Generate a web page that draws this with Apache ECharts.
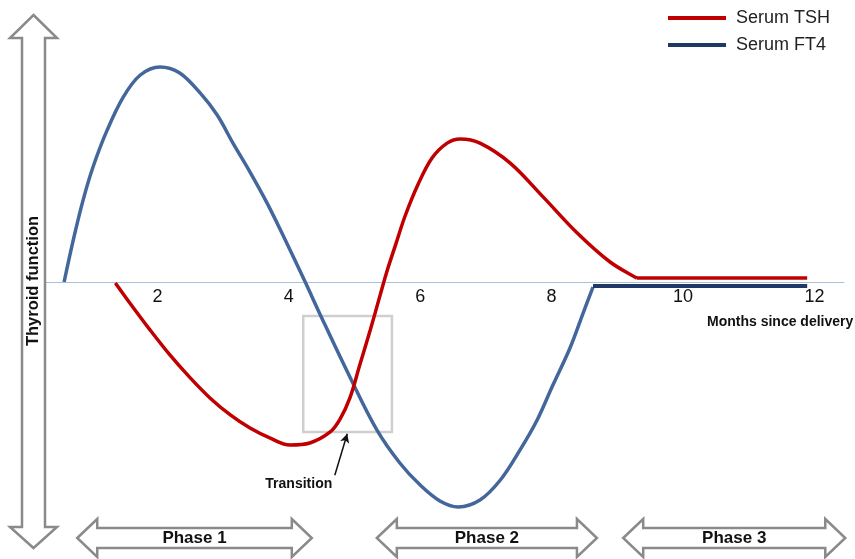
<!DOCTYPE html>
<html><head><meta charset="utf-8">
<script src="https://cdn.jsdelivr.net/npm/echarts@6.0.0/dist/echarts.min.js"></script>
<style>html,body{margin:0;padding:0;background:#fff}#c{width:855px;height:559px}</style>
</head><body><div id="c"></div>
<script>
// ---- data (months since delivery, relative thyroid level) ----
const tickLabels = [2, 4, 6, 8, 10, 12];

const ft4Months = [0.58, 0.72, 0.87, 1.02, 1.23, 1.48, 1.74, 2.04, 2.34, 2.65, 2.91, 3.15, 3.41, 3.67, 3.91, 4.25, 4.48, 4.93, 5.34, 5.69, 6.00, 6.30, 6.58, 6.91, 7.22, 7.52, 7.78, 8.02, 8.28, 8.48, 8.63];
const ft4Values = [0, 18.3, 35.7, 50, 65.7, 80.4, 90, 93.5, 90.9, 82.2, 72.6, 60.4, 47.8, 34.3, 20.4, 0, -14.3, -41.3, -64.3, -78.7, -88.3, -95.2, -97.8, -94.8, -86.1, -73, -60, -44.8, -28.7, -13.5, -2.2];
const ft4SteadyMonths = [8.63, 11.89];
const ft4SteadyValues = [-1.7, -1.7];

const tshMonths = [1.36, 1.58, 1.89, 2.19, 2.50, 2.80, 3.11, 3.41, 3.71, 4.02, 4.32, 4.63, 4.78, 4.93, 5.08, 5.24, 5.39, 5.50, 5.62, 5.77, 5.97, 6.18, 6.41, 6.61, 6.91, 7.37, 7.87, 8.39, 8.89, 9.30];
const tshValues = [-0.4, -9.1, -20.9, -31.7, -41.7, -50.4, -57.8, -63.5, -67.8, -70.9, -70, -65.2, -59.6, -50.4, -36.1, -20.9, -5.7, 5.2, 15.7, 28.7, 42.6, 53.9, 60.4, 62.2, 60.4, 51.7, 37, 21.3, 8.7, 1.7];
const tshSteadyMonths = [9.30, 11.89];
const tshSteadyValues = [1.7, 1.7];

const transitionMonths = [4.22, 5.57];
const transitionLevels = [-14.8, -65.2];
const transitionArrowMonths = [4.70, 4.89];
const transitionArrowLevels = [-84, -66];

const phaseNames = ['Phase 1', 'Phase 2', 'Phase 3'];
const phaseStart = [0.78, 5.34, 9.09];
const phaseEnd = [4.35, 8.69, 12.47];

const zip = (xs, ys) => xs.map((x, i) => [x, ys[i]]);

const RED = '#c00000', BLUE = '#44679b', NAVY = '#1f3864';
const FONT = 'Liberation Sans, Arial, sans-serif';
const SMOOTH = 0.35;

const chart = echarts.init(document.getElementById('c'), null, {renderer: 'canvas'});

const GRID_TOP = 52, GRID_H = 460;
const option = {
  animation: false,
  backgroundColor: '#fff',
  grid: {left: 26, top: GRID_TOP, height: GRID_H, width: 12.45 * 65.7},
  legend: {
    orient: 'vertical', left: 663, top: 4, itemWidth: 58, itemHeight: 4, itemGap: 9,
    icon: 'rect',
    textStyle: {fontFamily: FONT, fontSize: 18, color: '#222', padding: [0, 0, 0, 5]},
    data: [
      {name: 'Serum TSH', itemStyle: {color: RED}},
      {name: 'Serum FT4', itemStyle: {color: NAVY}}
    ]
  },
  xAxis: {
    type: 'value', min: 0, max: 12.45, interval: 2,
    position: 'bottom', offset: -GRID_H / 2,
    axisLine: {onZero: false, lineStyle: {color: '#a9c0da', width: 1}},
    axisTick: {show: false},
    splitLine: {show: false},
    axisLabel: {
      color: '#111', fontFamily: FONT, fontSize: 18, margin: 6,
      formatter: v => tickLabels.includes(v) ? String(v) : ''
    }
  },
  yAxis: {type: 'value', min: -100, max: 100, show: false},
  series: [
    {
      name: 'Serum FT4', type: 'line', data: zip(ft4Months, ft4Values),
      smooth: SMOOTH, symbol: 'none', lineStyle: {color: BLUE, width: 3.5}, itemStyle: {color: BLUE},
      markArea: {
        silent: true,
        itemStyle: {color: 'rgba(0,0,0,0)', borderColor: '#cfcfcf', borderWidth: 2.5},
        data: [[{xAxis: transitionMonths[0], yAxis: transitionLevels[0]}, {xAxis: transitionMonths[1], yAxis: transitionLevels[1]}]]
      }
    },
    {
      name: 'Serum FT4', type: 'line', data: zip(ft4SteadyMonths, ft4SteadyValues),
      symbol: 'none', lineStyle: {color: NAVY, width: 4}, itemStyle: {color: NAVY}
    },
    {
      name: 'Serum TSH', type: 'line', data: zip(tshMonths, tshValues),
      smooth: SMOOTH, symbol: 'none', lineStyle: {color: RED, width: 3.5}, itemStyle: {color: RED},
      markLine: {
        silent: true, symbol: ['none', 'arrow'], symbolSize: [7, 9],
        label: {show: false},
        lineStyle: {color: '#111', width: 1.5, type: 'solid'},
        data: [[{coord: [transitionArrowMonths[0], transitionArrowLevels[0]]}, {coord: [transitionArrowMonths[1], transitionArrowLevels[1]]}]]
      }
    },
    {
      name: 'Serum TSH', type: 'line', data: zip(tshSteadyMonths, tshSteadyValues),
      symbol: 'none', lineStyle: {color: RED, width: 3.5}, itemStyle: {color: RED}
    }
  ]
};
chart.setOption(option);

// ---- decorative arrows & annotations ----
const arrowStyle = {fill: '#fff', stroke: '#8a8a8a', lineWidth: 2.5};
const graphics = [];
graphics.push({
  type: 'polygon', z: 50,
  shape: {points: [[33.5, 15], [57, 38], [45, 38], [45, 527], [57, 527], [33.5, 548], [10, 527], [22, 527], [22, 38], [10, 38]]},
  style: arrowStyle
});
graphics.push({
  type: 'text', z: 51, x: 33.5, y: 281, rotation: Math.PI / 2,
  style: {text: 'Thyroid function', fontFamily: FONT, fontWeight: 'bold', fontSize: 16.5, fill: '#111', align: 'center', verticalAlign: 'middle'}
});
const cy = 538;
phaseNames.forEach((name, i) => {
  const L = chart.convertToPixel({xAxisIndex: 0}, phaseStart[i]);
  const R = chart.convertToPixel({xAxisIndex: 0}, phaseEnd[i]);
  graphics.push({
    type: 'polygon', z: 50,
    shape: {points: [[L, cy], [L + 20, cy - 19], [L + 20, cy - 10], [R - 20, cy - 10], [R - 20, cy - 19], [R, cy], [R - 20, cy + 19], [R - 20, cy + 10], [L + 20, cy + 10], [L + 20, cy + 19]]},
    style: arrowStyle
  });
  graphics.push({
    type: 'text', z: 51, x: (L + R) / 2, y: cy,
    style: {text: name, fontFamily: FONT, fontWeight: 'bold', fontSize: 17, fill: '#111', align: 'center', verticalAlign: 'middle'}
  });
});
graphics.push({
  type: 'text', z: 51, x: 707, y: 322,
  style: {text: 'Months since delivery', fontFamily: FONT, fontWeight: 'bold', fontSize: 14, fill: '#111', align: 'left', verticalAlign: 'middle'}
});
const tx = chart.convertToPixel({xAxisIndex: 0}, transitionArrowMonths[0]);
const ty = chart.convertToPixel({yAxisIndex: 0}, transitionArrowLevels[0]);
graphics.push({
  type: 'text', z: 51, x: tx - 36, y: ty + 9,
  style: {text: 'Transition', fontFamily: FONT, fontWeight: 'bold', fontSize: 14, fill: '#111', align: 'center', verticalAlign: 'middle'}
});
chart.setOption({graphic: graphics});
</script>
</body></html>
